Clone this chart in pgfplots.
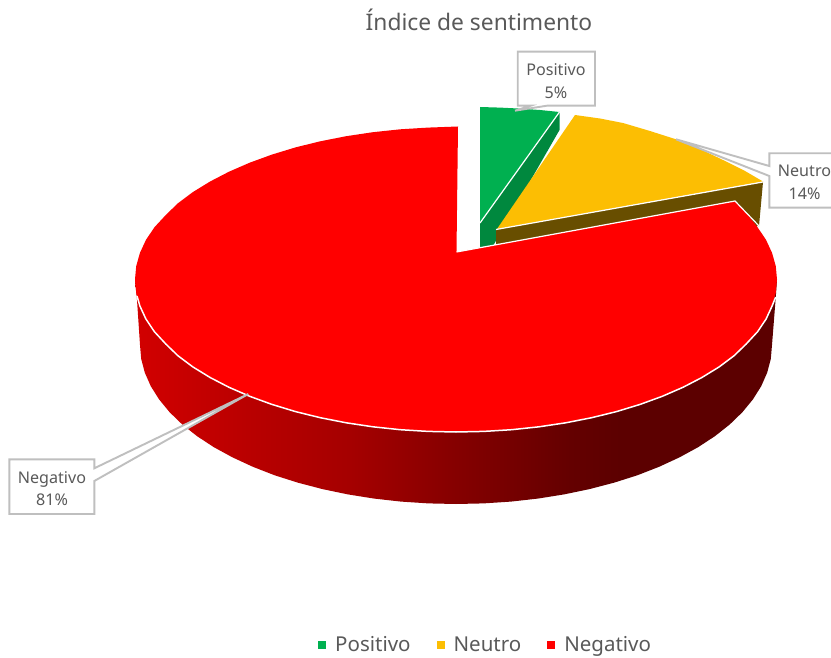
\documentclass[border=0pt]{standalone}
\usepackage{pgfplots}
\pgfplotsset{compat=1.18}
\usepackage{fontspec}
\setmainfont{Noto Sans}
\definecolor{cgreen}{RGB}{0,176,80}
\definecolor{cgreens}{RGB}{0,136,62}
\definecolor{cyellow}{RGB}{252,190,3}
\definecolor{cbrown}{RGB}{104,78,0}
\definecolor{cred}{RGB}{255,0,0}
\definecolor{cgrayt}{RGB}{89,89,89}
\definecolor{cbox}{RGB}{191,191,191}
\definecolor{sa}{RGB}{210,0,0}
\definecolor{sb}{RGB}{185,0,0}
\definecolor{sc}{RGB}{165,0,0}
\definecolor{sd}{RGB}{135,0,0}
\definecolor{se}{RGB}{100,0,0}
\definecolor{sf}{RGB}{92,0,0}
\pgfdeclarehorizontalshading{sideshade}{100bp}{color(0bp)=(sa); color(25bp)=(sa); color(33.8bp)=(sb); color(41.7bp)=(sc); color(49.5bp)=(sd); color(58.9bp)=(se); color(62.8bp)=(sf); color(100bp)=(sf)}
\begin{document}
\begin{tikzpicture}
\path[use as bounding box] (0,0) rectangle (831pt,658pt);
\begin{axis}[
  at={(0,0)}, anchor=south west,
  width=831pt, height=658pt, scale only axis,
  xmin=0, xmax=831, ymin=0, ymax=658, y dir=reverse,
  hide axis, clip=true, no markers,
  legend style={draw=none, fill=none, at={(axis cs:318,645)}, anchor=west,
    legend columns=3, font=\fontsize{20.5}{24}\selectfont, text=cgrayt, inner sep=0pt, row sep=0pt,
    /tikz/every odd column/.append style={column sep=7pt},
    /tikz/every even column/.append style={column sep=24pt}},
  legend image code/.code={\path[#1,draw=none] (0pt,-4pt) rectangle (8pt,4pt);},
  legend cell align=left,
]
% green side
\addplot[forget plot, draw=none, fill=cgreens] coordinates {(559.5,112)(559.5,130)(493,246)(480,248)(480,223)} -- cycle;
% green top
\addplot[draw=none, fill=cgreen] coordinates {(480,107)(500,107.6)(520,108.6)(540,110)(559.5,112)(480,223)} -- cycle;
\addlegendentry{Positivo}
\addplot[forget plot, white, line width=1.2pt] coordinates {(480,223)(559.5,112)};
% brown side
\addplot[forget plot, draw=none, fill=cbrown] coordinates {(763,182)(759,226)(496,246)(496,229)} -- cycle;
% yellow top
\addplot[draw=none, fill=cyellow] coordinates {(575,115)(600,118.5)(623,123)(650,131)(676,139.3)(700,149)(723,160)(745,171)(763,181.5)(497,229)} -- cycle;
\addlegendentry{Neutro}
\addplot[forget plot, white, line width=1.2pt] coordinates {(496,229.5)(763,182)};
% red side with gradient
\addplot[forget plot, draw=none, shade, shading=sideshade] coordinates {
(137,300)(135,279.5)(777,279.5)(775.7,298)(772,345)(770.8,358.9)(767.2,372.6)(761.2,386.2)(752.9,399.4)(742.4,412.2)(729.7,424.5)(714.9,436.2)(698.1,447.2)(679.4,457.4)(659.1,466.8)(637.3,475.3)(614,482.7)(589.5,489.1)(564.1,494.4)(537.8,498.6)(510.9,501.6)(483.6,503.4)(456,504)(428.4,503.4)(401.1,501.6)(374.2,498.6)(347.9,494.4)(322.5,489.1)(298,482.7)(274.7,475.3)(252.9,466.8)(232.6,457.4)(213.9,447.2)(197.1,436.2)(182.3,424.5)(169.6,412.2)(159.1,399.4)(150.8,386.2)(144.8,372.6)(141.2,358.9)(140,345)} -- cycle;
% red top
\addplot[draw=none, fill=cred] coordinates {
(458,126.5)(428,127.6)(400.3,129.3)(372.9,132.2)(346.2,136.2)(320.3,141.3)(295.5,147.4)(271.9,154.6)(249.7,162.7)(229,171.7)(210.1,181.5)(193,192)(178,203.2)(165.9,214.9)(154.4,227.3)(145.9,240)(139.9,253)(136.2,266.2)(135,279.5)(136.2,292.8)(139.9,306)(145.9,319)(154.4,331.7)(165.9,344.1)(178,355.8)(193,367)(210.1,377.5)(229,387.3)(249.7,396.3)(271.9,404.4)(295.5,411.6)(320.3,417.7)(346.2,422.8)(372.9,426.8)(400.3,429.7)(428,431.4)(456,432)(484,431.4)(511.7,429.7)(539.1,426.8)(565.8,422.8)(591.7,417.7)(616.5,411.6)(640.1,404.4)(662.3,396.3)(683,387.3)(701.9,377.5)(719,367)(734,355.8)(746.1,344.1)(757.6,331.7)(766.1,319)(772.1,306)(775.8,292.8)(777,279.5)(775.8,266.2)(772.1,253)(766.1,240)(757.6,227.3)(747,214)(735,201)(456.5,252)} -- cycle;
\addlegendentry{Negativo}
% white rims
\addplot[forget plot, white, line width=1.5pt] coordinates {
(137,296)(139.9,306)(145.9,319)(154.4,331.7)(165.9,344.1)(178,355.8)(193,367)(210.1,377.5)(229,387.3)(249.7,396.3)(271.9,404.4)(295.5,411.6)(320.3,417.7)(346.2,422.8)(372.9,426.8)(400.3,429.7)(428,431.4)(456,432)(484,431.4)(511.7,429.7)(539.1,426.8)(565.8,422.8)(591.7,417.7)(616.5,411.6)(640.1,404.4)(662.3,396.3)(683,387.3)(701.9,377.5)(719,367)(734,355.8)(746.1,344.1)(757.6,331.7)(766.1,319)(772.1,306)(775.7,297)};
\addplot[forget plot, white, line width=1.2pt] coordinates {(456.5,252)(735,201)(759,226)};
% callouts
\addplot[forget plot, draw=cbox, fill=white, line width=1.9pt] coordinates {(517.7,51.7)(595,51.7)(595,105.7)(547,105.7)(515,110.7)(530.7,105.7)(517.7,105.7)} -- cycle;
\addplot[forget plot, draw=cbox, fill=white, line width=1.9pt] coordinates {(769.3,153.3)(840,153.3)(840,207.7)(769.3,207.7)(769.3,176)(676,139.3)(769.3,166)} -- cycle;
\addplot[forget plot, draw=cbox, fill=white, line width=1.9pt] coordinates {(9.3,459.3)(94.3,459.3)(94.3,468.3)(248.3,394)(94.3,481)(94.3,514)(9.3,514)} -- cycle;
\node[text=cgrayt, font=\fontsize{22.8}{27}\selectfont] at (axis cs:479,19.5) {Índice de sentimento};
\node[text=cgrayt, align=center, font=\fontsize{16.1}{22.5}\selectfont] at (axis cs:556,81) {Positivo\\5\%};
\node[text=cgrayt, align=center, font=\fontsize{16.1}{22.5}\selectfont] at (axis cs:804.5,182.5) {Neutro\\14\%};
\node[text=cgrayt, align=center, font=\fontsize{16.1}{22.5}\selectfont] at (axis cs:52,488.5) {Negativo\\81\%};
\end{axis}
\end{tikzpicture}
\end{document}
